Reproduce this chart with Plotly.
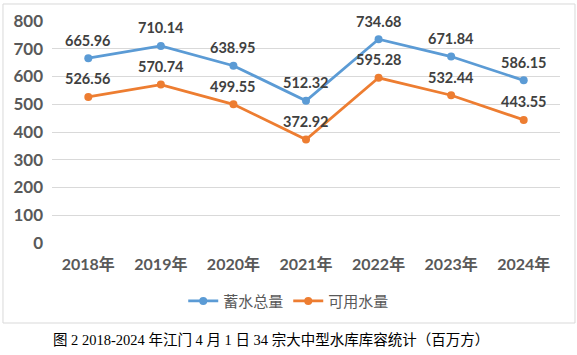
import plotly.graph_objects as go

years = ["2018年", "2019年", "2020年", "2021年", "2022年", "2023年", "2024年"]
storage_total = [665.96, 710.14, 638.95, 512.32, 734.68, 671.84, 586.15]
usable_water = [526.56, 570.74, 499.55, 372.92, 595.28, 532.44, 443.55]
series_names = ["蓄水总量", "可用水量"]
y_ticks = [0, 100, 200, 300, 400, 500, 600, 700, 800]
caption = "图 2 2018-2024 年江门 4 月 1 日 34 宗大中型水库库容统计（百万方）"

colors = ["#5B9BD5", "#ED7D31"]
num_font = "Lato, Open Sans, sans-serif"

fig = go.Figure()
annotations = []
for name, vals, c in zip(series_names, [storage_total, usable_water], colors):
    fig.add_trace(go.Scatter(
        x=years, y=vals, name=name, mode="lines+markers",
        line=dict(color=c, width=2.75),
        marker=dict(color=c, size=8),
        cliponaxis=False,
    ))
    for yr, v in zip(years, vals):
        annotations.append(dict(
            x=yr, y=v, xref="x", yref="y", text=f"{v:.2f}", showarrow=False,
            xanchor="center", yanchor="middle", yshift=18,
            font=dict(family=num_font, size=14.5, color="#404040", weight="bold"),
        ))

annotations.append(dict(text=caption, xref="paper", yref="paper", x=0.432, y=-0.437,
                        xanchor="center", yanchor="middle", showarrow=False,
                        font=dict(family="Liberation Serif, Noto Sans CJK SC", size=14.5, color="#000000")))

fig.update_layout(
    width=577, height=355,
    margin=dict(l=52, r=17, t=21, b=112, autoexpand=False),
    paper_bgcolor="white", plot_bgcolor="white",
    showlegend=True,
    legend=dict(orientation="h", x=0.466, xanchor="center", y=-0.262, yanchor="middle",
                font=dict(family="Noto Sans CJK SC", size=15, color="#595959"),
                itemwidth=30, tracegroupgap=0),
    xaxis=dict(range=[-0.5, 6.5], showgrid=False, showline=False, zeroline=False,
               tickfont=dict(family=num_font + ", Noto Sans CJK SC", size=16, color="#595959", weight="bold"),
               ticks="", ticklabelstandoff=10),
    yaxis=dict(range=[0, 800], tickvals=y_ticks, showgrid=True, gridcolor="#D9D9D9", gridwidth=1,
               zeroline=False, showline=False, ticks="", ticklabelstandoff=8,
               tickfont=dict(family=num_font, size=17, color="#595959", weight="bold")),
    shapes=[dict(type="rect", xref="paper", yref="paper",
                 x0=-0.0965, x1=1.0295, y0=-0.3604, y1=1.0766,
                 line=dict(color="#D9D9D9", width=1), fillcolor="rgba(0,0,0,0)", layer="below")],
    annotations=annotations,
)

fig.write_html("out.html", config={"displayModeBar": False},
               post_script="document.body.style.margin='0';document.body.style.padding='0';")
